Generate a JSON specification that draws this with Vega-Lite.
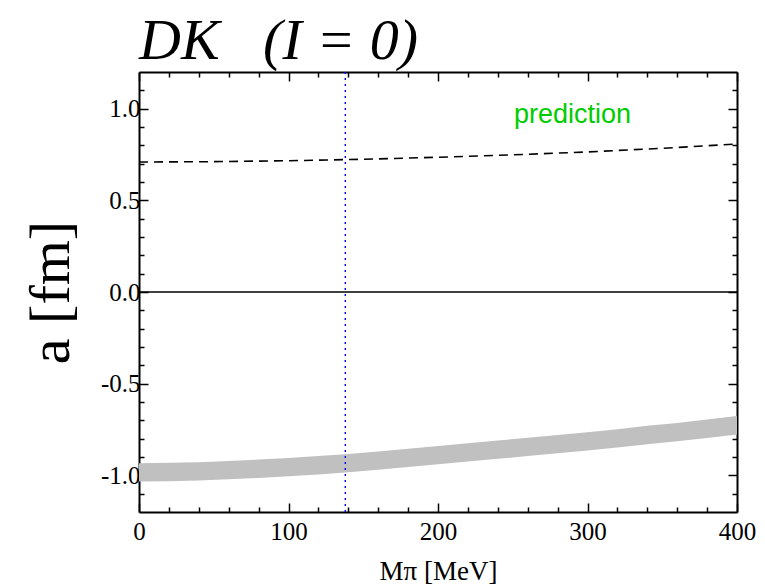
{
  "$schema": "https://vega.github.io/schema/vega-lite/v6.json",
  "width": 598,
  "height": 440,
  "autosize": "none",
  "padding": {"left": 139, "top": 72, "right": 28, "bottom": 74},
  "background": "white",
  "config": {
    "view": {"stroke": null},
    "axis": {
      "labelFont": "Liberation Serif",
      "labelFontSize": 25,
      "labelColor": "black",
      "titleFont": "Liberation Serif",
      "titleFontWeight": "normal",
      "titleColor": "black",
      "domainColor": "black",
      "domainWidth": 2,
      "tickColor": "black",
      "tickWidth": 1.5,
      "grid": false
    }
  },
  "title": {
    "text": "DK\u2002 (I = 0)",
    "font": "Liberation Serif",
    "fontStyle": "italic",
    "fontWeight": "normal",
    "fontSize": 58,
    "anchor": "start",
    "frame": "group",
    "baseline": "bottom",
    "offset": -58,
    "dx": 0,
    "color": "black"
  },
  "datasets": {
    "band": [
      {"x": 0, "c": -0.984}, {"x": 20, "c": -0.982}, {"x": 40, "c": -0.978},
      {"x": 60, "c": -0.972}, {"x": 80, "c": -0.964}, {"x": 100, "c": -0.955},
      {"x": 120, "c": -0.945}, {"x": 140, "c": -0.933}, {"x": 160, "c": -0.92},
      {"x": 180, "c": -0.905}, {"x": 200, "c": -0.89}, {"x": 220, "c": -0.875},
      {"x": 240, "c": -0.86}, {"x": 260, "c": -0.845}, {"x": 280, "c": -0.83},
      {"x": 300, "c": -0.815}, {"x": 320, "c": -0.798}, {"x": 340, "c": -0.78},
      {"x": 360, "c": -0.764}, {"x": 380, "c": -0.746}, {"x": 400, "c": -0.727}
    ],
    "bandEdges": [
      {"x": 0, "lo": -1.034, "hi": -0.934}, {"x": 20, "lo": -1.032, "hi": -0.932},
      {"x": 40, "lo": -1.028, "hi": -0.928}, {"x": 60, "lo": -1.022, "hi": -0.922},
      {"x": 80, "lo": -1.014, "hi": -0.914}, {"x": 100, "lo": -1.005, "hi": -0.905},
      {"x": 120, "lo": -0.995, "hi": -0.895}, {"x": 140, "lo": -0.983, "hi": -0.883},
      {"x": 160, "lo": -0.97, "hi": -0.87}, {"x": 180, "lo": -0.955, "hi": -0.855},
      {"x": 200, "lo": -0.94, "hi": -0.84}, {"x": 220, "lo": -0.925, "hi": -0.825},
      {"x": 240, "lo": -0.91, "hi": -0.81}, {"x": 260, "lo": -0.895, "hi": -0.795},
      {"x": 280, "lo": -0.88, "hi": -0.78}, {"x": 300, "lo": -0.865, "hi": -0.765},
      {"x": 320, "lo": -0.848, "hi": -0.748}, {"x": 340, "lo": -0.83, "hi": -0.73},
      {"x": 360, "lo": -0.814, "hi": -0.714}, {"x": 380, "lo": -0.796, "hi": -0.696},
      {"x": 400, "lo": -0.777, "hi": -0.677}
    ],
    "pred": [
      {"x": 0, "y": 0.709}, {"x": 50, "y": 0.711}, {"x": 100, "y": 0.716},
      {"x": 150, "y": 0.724}, {"x": 200, "y": 0.735}, {"x": 250, "y": 0.748},
      {"x": 300, "y": 0.764}, {"x": 350, "y": 0.784}, {"x": 400, "y": 0.807}
    ],
    "zero": [{"y": 0}],
    "mpi": [{"x": 138}],
    "label": [{"x": 290, "y": 0.967, "t": "prediction"}]
  },
  "layer": [
    {
      "data": {"name": "bandEdges"},
      "mark": {"type": "area", "color": "#c0c0c0", "opacity": 1},
      "encoding": {
        "x": {
          "field": "x", "type": "quantitative",
          "scale": {"domain": [0, 400], "nice": false, "zero": false},
          "axis": {
            "orient": "bottom",
            "title": "Mπ [MeV]",
            "titleFontSize": 27,
            "titlePadding": 10,
            "values": [0,20,40,60,80,100,120,140,160,180,200,220,240,260,280,300,320,340,360,380,400],
            "labelExpr": "datum.value % 100 === 0 ? datum.label : ''",
            "tickSize": {"condition": {"test": "datum.value % 100 === 0", "value": -9}, "value": -5},
            "labelPadding": 16,
            "labelFlush": false,
            "labelOverlap": false
          }
        },
        "y": {
          "field": "lo", "type": "quantitative",
          "scale": {"domain": [-1.2, 1.2], "nice": false, "zero": false},
          "axis": {
            "orient": "left",
            "title": "a [fm]",
            "titleFontSize": 58,
            "titlePadding": 20,
            "values": [-1.1,-1.0,-0.9,-0.8,-0.7,-0.6,-0.5,-0.4,-0.3,-0.2,-0.1,0,0.1,0.2,0.3,0.4,0.5,0.6,0.7,0.8,0.9,1.0,1.1],
            "labelExpr": "round(datum.value*10) % 5 === 0 ? replace(format(datum.value, '.1f'), '−', '-') : ''",
            "tickSize": {"condition": {"test": "round(datum.value*10) % 5 === 0", "value": -9}, "value": -5},
            "labelPadding": 8,
            "labelFlush": false,
            "labelOverlap": false
          }
        },
        "y2": {"field": "hi"}
      }
    },
    {
      "data": {"name": "pred"},
      "mark": {"type": "line", "color": "black", "strokeWidth": 1.6, "strokeDash": [9, 6]},
      "encoding": {
        "x": {"field": "x", "type": "quantitative", "axis": null},
        "y": {"field": "y", "type": "quantitative", "axis": null}
      }
    },
    {
      "data": {"name": "zero"},
      "mark": {"type": "rule", "color": "black", "strokeWidth": 1.5},
      "encoding": {
        "y": {"field": "y", "type": "quantitative", "axis": null}
      }
    },
    {
      "data": {"name": "mpi"},
      "mark": {"type": "rule", "color": "#0000ff", "strokeWidth": 1.4, "strokeDash": [2, 4]},
      "encoding": {
        "x": {"field": "x", "type": "quantitative", "axis": null}
      }
    },
    {
      "data": {"name": "label"},
      "mark": {"type": "text", "font": "Liberation Sans", "fontSize": 27, "color": "#00cc00", "align": "center", "baseline": "middle"},
      "encoding": {
        "x": {"field": "x", "type": "quantitative", "axis": null},
        "y": {"field": "y", "type": "quantitative", "axis": null},
        "text": {"field": "t"}
      }
    },
    {
      "data": {"name": "band"},
      "mark": {"type": "point", "opacity": 0},
      "encoding": {
        "x": {
          "field": "x", "type": "quantitative",
          "axis": {
            "orient": "top",
            "title": null,
            "labels": false,
            "values": [0,20,40,60,80,100,120,140,160,180,200,220,240,260,280,300,320,340,360,380,400],
            "tickSize": {"condition": {"test": "datum.value % 100 === 0", "value": -9}, "value": -5}
          }
        },
        "y": {
          "field": "c", "type": "quantitative",
          "axis": {
            "orient": "right",
            "title": null,
            "labels": false,
            "values": [-1.1,-1.0,-0.9,-0.8,-0.7,-0.6,-0.5,-0.4,-0.3,-0.2,-0.1,0,0.1,0.2,0.3,0.4,0.5,0.6,0.7,0.8,0.9,1.0,1.1],
            "tickSize": {"condition": {"test": "round(datum.value*10) % 5 === 0", "value": -9}, "value": -5}
          }
        }
      }
    }
  ],
  "resolve": {"axis": {"x": "independent", "y": "independent"}}
}
